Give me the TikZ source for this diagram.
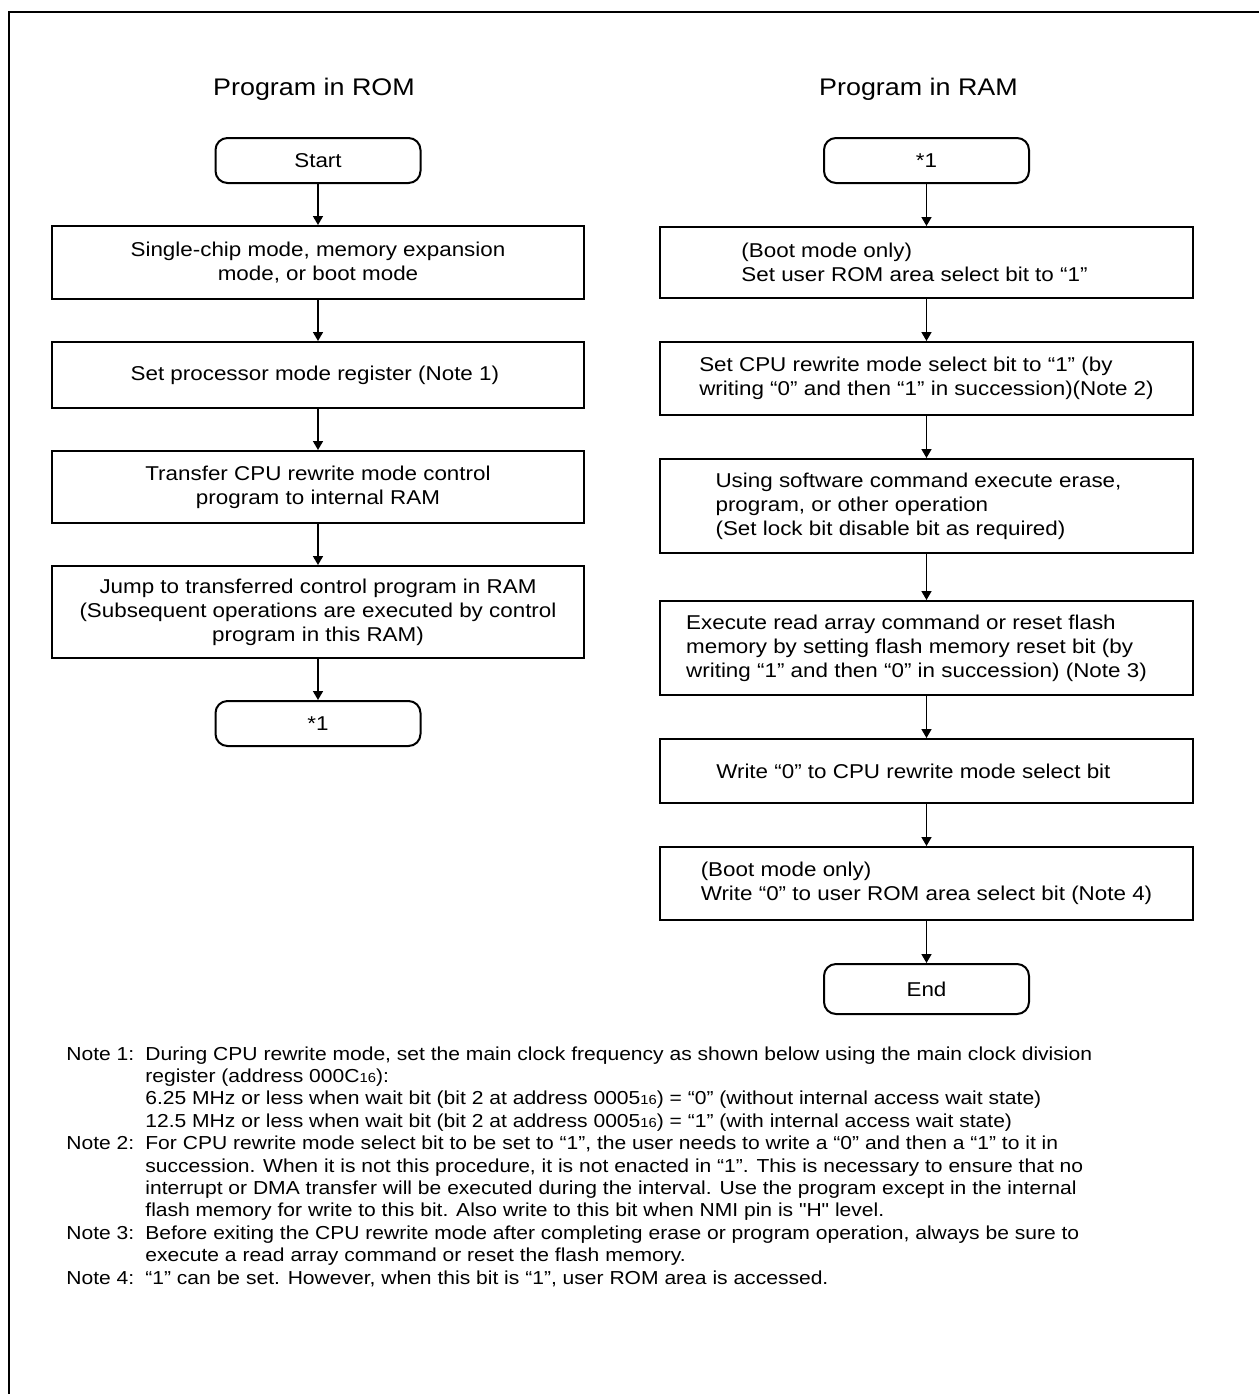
\documentclass[tikz,border=0pt]{standalone}
\usepackage{fontspec}
\setmainfont{Liberation Sans}[FakeStretch=1.12, Ligatures=TeXOff]
\usetikzlibrary{arrows.meta, positioning}
\definecolor{ink}{HTML}{000000}
\newcommand{\hexsuffix}{{\fontsize{6.6pt}{6.6pt}\selectfont 16}}
\tikzset{
  frame/.style={draw=ink, line width=1.2pt},
  title/.style={font=\fontsize{12pt}{14pt}\selectfont, inner sep=0pt},
  box/.style={
    draw=ink,
    line width=1pt,
    inner sep=2pt,
    font=\fontsize{10pt}{12pt}\selectfont
  },
  terminal/.style={box, rounded corners=6pt, minimum width=102.5pt, minimum height=22.5pt, align=center},
  romstep/.style={box, minimum width=266pt, align=center},
  ramstep/.style={box, minimum width=266.5pt, align=left},
  notes/.style={inner sep=0pt, font=\fontsize{9.4pt}{11.2pt}\selectfont},
  arrow/.style={-{Triangle[length=4.5pt, width=5pt]}, line width=0.8pt, draw=ink}
}

\begin{document}
\begin{tikzpicture}[x=0.5pt, y=-0.5pt, node distance=20.5pt]
\useasboundingbox (0,0) rectangle (1259,1394);
\draw[frame] (9,1394) |- (1259,12);

\node[title] (romtitle) at (314,89) {Program in ROM};
\node[title] (ramtitle) at (918.5,89) {Program in RAM};

% program in ROM
\node[terminal] (start) at (318,160.5) {Start};

\node[romstep, minimum height=36.5pt, below=of start] (modes) {
  Single-chip mode, memory expansion\\
  mode, or boot mode
};

\node[romstep, minimum height=33pt, below=of modes] (pmreg) {
  Set processor mode register (Note 1)
};

\node[romstep, minimum height=36pt, below=of pmreg] (transfer) {
  Transfer CPU rewrite mode control\\
  program to internal RAM
};

\node[romstep, minimum height=46pt, below=of transfer] (jump) {
  Jump to transferred control program in RAM\\
  (Subsequent operations are executed by control\\
  program in this RAM)
};

\node[terminal, below=of jump] (exitmark) {*1};

% program in RAM
\node[terminal] (entry) at (926.5,160.5) {*1};

\node[ramstep, minimum height=35.5pt, below=21pt of entry] (romsel) {
  (Boot mode only)\\
  Set user ROM area select bit to “1”\hspace*{12pt}
};

\node[ramstep, minimum height=36.5pt, below=21pt of romsel] (cpusel) {
  Set CPU rewrite mode select bit to “1” (by\\
  writing “0” and then “1” in succession)(Note 2)
};

\node[ramstep, minimum height=47pt, below=21pt of cpusel] (command) {
  Using software command execute erase,\hspace*{8pt}\\
  program, or other operation\\
  (Set lock bit disable bit as required)
};

\node[ramstep, minimum height=47pt, below=23pt of command] (readarray) {
  Execute read array command or reset flash\\
  memory by setting flash memory reset bit (by\\
  writing “1” and then “0” in succession) (Note 3)\hspace*{10pt}
};

\node[ramstep, minimum height=32pt, below=21pt of readarray] (cpuclear) {
  Write “0” to CPU rewrite mode select bit\hspace*{10pt}
};

\node[ramstep, minimum height=36.5pt, below=21pt of cpuclear] (romclear) {
  (Boot mode only)\\
  Write “0” to user ROM area select bit (Note 4)
};

\node[terminal, minimum height=25pt, below=21pt of romclear] (finish) {End};

% notes
\node[notes, anchor=base west] (notelist) at (66,1060) {%
  \begin{tabular}[t]{@{}p{39.5pt}@{}l@{}}
  Note 1: & During CPU rewrite mode, set the main clock frequency as shown below using the main clock division\\
          & register (address 000C\hexsuffix):\\
          & 6.25 MHz or less when wait bit (bit 2 at address 0005\hexsuffix) = “0” (without internal access wait state)\\
          & 12.5 MHz or less when wait bit (bit 2 at address 0005\hexsuffix) = “1” (with internal access wait state)\\
  Note 2: & For CPU rewrite mode select bit to be set to “1”, the user needs to write a “0” and then a “1” to it in\\
          & succession. When it is not this procedure, it is not enacted in “1”. This is necessary to ensure that no\\
          & interrupt or DMA transfer will be executed during the interval. Use the program except in the internal\\
          & flash memory for write to this bit. Also write to this bit when NMI pin is "H" level.\\
  Note 3: & Before exiting the CPU rewrite mode after completing erase or program operation, always be sure to\\
          & execute a read array command or reset the flash memory.\\
  Note 4: & “1” can be set. However, when this bit is “1”, user ROM area is accessed.
  \end{tabular}%
};

\draw[arrow] (start) -- (modes);
\draw[arrow] (modes) -- (pmreg);
\draw[arrow] (pmreg) -- (transfer);
\draw[arrow] (transfer) -- (jump);
\draw[arrow] (jump) -- (exitmark);
\draw[arrow] (entry) -- (romsel);
\draw[arrow] (romsel) -- (cpusel);
\draw[arrow] (cpusel) -- (command);
\draw[arrow] (command) -- (readarray);
\draw[arrow] (readarray) -- (cpuclear);
\draw[arrow] (cpuclear) -- (romclear);
\draw[arrow] (romclear) -- (finish);

\end{tikzpicture}
\end{document}
